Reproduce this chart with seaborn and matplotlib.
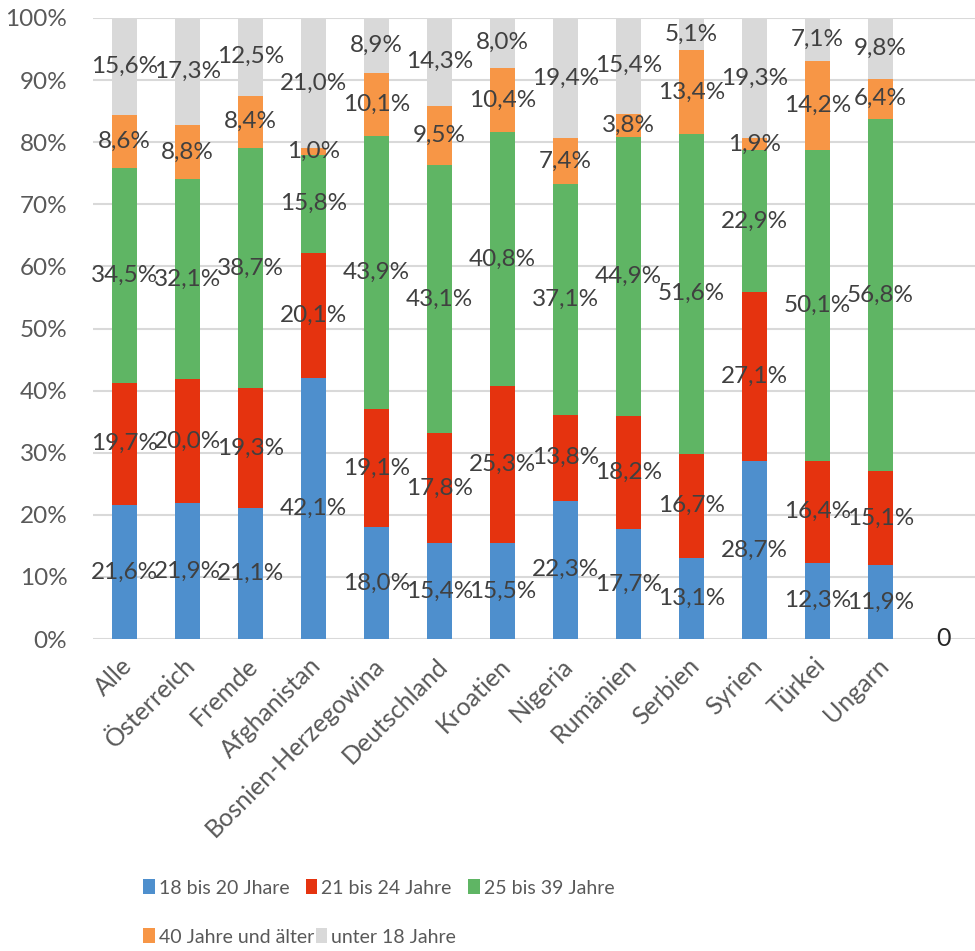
import matplotlib
matplotlib.use("Agg")
import matplotlib.pyplot as plt
import seaborn as sns
import numpy as np
import pandas as pd
from matplotlib.ticker import FuncFormatter
from matplotlib.patches import Patch
from matplotlib.transforms import ScaledTranslation

categories = ["Alle", "Österreich", "Fremde", "Afghanistan", "Bosnien-Herzegowina",
              "Deutschland", "Kroatien", "Nigeria", "Rumänien", "Serbien",
              "Syrien", "Türkei", "Ungarn", " "]

series_names = ["18 bis 20 Jhare", "21 bis 24 Jahre", "25 bis 39 Jahre",
                "40 Jahre und älter", "unter 18 Jahre"]

age_18_20 = [21.6, 21.9, 21.1, 42.1, 18.0, 15.4, 15.5, 22.3, 17.7, 13.1, 28.7, 12.3, 11.9, 0]
age_21_24 = [19.7, 20.0, 19.3, 20.1, 19.1, 17.8, 25.3, 13.8, 18.2, 16.7, 27.1, 16.4, 15.1, 0]
age_25_39 = [34.5, 32.1, 38.7, 15.8, 43.9, 43.1, 40.8, 37.1, 44.9, 51.6, 22.9, 50.1, 56.8, 0]
age_40_plus = [8.6, 8.8, 8.4, 1.0, 10.1, 9.5, 10.4, 7.4, 3.8, 13.4, 1.9, 14.2, 6.4, 0]
under_18 = [15.6, 17.3, 12.5, 21.0, 8.9, 14.3, 8.0, 19.4, 15.4, 5.1, 19.3, 7.1, 9.8, 0]

colors = ["#4E8FCD", "#E5330F", "#5FB564", "#F79646", "#D9D9D9"]

series = [age_18_20, age_21_24, age_25_39, age_40_plus, under_18]
df = pd.DataFrame({name: vals for name, vals in zip(series_names, series)}, index=categories)
cum = df.cumsum(axis=1)

sns.set_theme(style="white")
plt.rcParams["font.family"] = ["Lato", "DejaVu Sans"]

fig = plt.figure(figsize=(9.75, 9.51), dpi=100)
ax = fig.add_axes([93 / 975, 1 - 639 / 951, 882 / 975, 621 / 951])

# stacked bars: draw cumulative totals from the top segment downwards
for name, col in reversed(list(zip(series_names, colors))):
    sns.barplot(x=categories, y=cum[name].values, order=categories, color=col,
                width=0.4, ax=ax, saturation=1, linewidth=0, zorder=3)

# value labels centred in each segment
for i, cat in enumerate(categories[:-1]):
    for name in series_names:
        v = df.loc[cat, name]
        y = cum.loc[cat, name] - v / 2
        ax.text(i, y, f"{v:.1f}".replace(".", ",") + "%", ha="center", va="center",
                fontsize=17.5, color="#404040", zorder=5)
ax.text(len(categories) - 1, 0, "0", ha="center", va="center", fontsize=18,
        color="#262626", zorder=5)

ax.set_ylim(0, 100)
ax.set_xlim(-0.5, len(categories) - 0.5)
ax.set_yticks(np.arange(0, 101, 10))
ax.yaxis.set_major_formatter(FuncFormatter(lambda x, _: f"{x:.0f}%"))
ax.grid(axis="y", color="#D9D9D9", linewidth=1.5, zorder=0)
ax.set_axisbelow(True)
for s in ax.spines.values():
    s.set_visible(False)
ax.tick_params(axis="y", length=0, pad=18.5, labelsize=17.5, labelcolor="#595959")
ax.tick_params(axis="x", length=0, pad=10, labelsize=18, labelcolor="#595959")
shift = ScaledTranslation(4 / 100, -9 / 100, fig.dpi_scale_trans)
for lab in ax.get_xticklabels():
    lab.set_rotation(45)
    lab.set_ha("right")
    lab.set_va("center")
    lab.set_rotation_mode("anchor")
    lab.set_transform(lab.get_transform() + shift)
ax.set_xlabel("")
ax.set_ylabel("")

handles = [Patch(facecolor=c, edgecolor="none", label=n) for n, c in zip(series_names, colors)]
legend_kw = dict(loc="center left", frameon=False, fontsize=14, labelcolor="#595959",
                 borderpad=0, borderaxespad=0, handlelength=0.6, handleheight=0.8,
                 handletextpad=0.2)
row1 = fig.legend(handles[:3], series_names[:3], ncol=3,
                  bbox_to_anchor=(143 / 975, 1 - 888 / 951), columnspacing=0.85, **legend_kw)
row2 = fig.legend(handles[3:], series_names[3:], ncol=2,
                  bbox_to_anchor=(143 / 975, 1 - 937 / 951), columnspacing=0.1, **legend_kw)

fig.savefig("out.png", dpi=100)
